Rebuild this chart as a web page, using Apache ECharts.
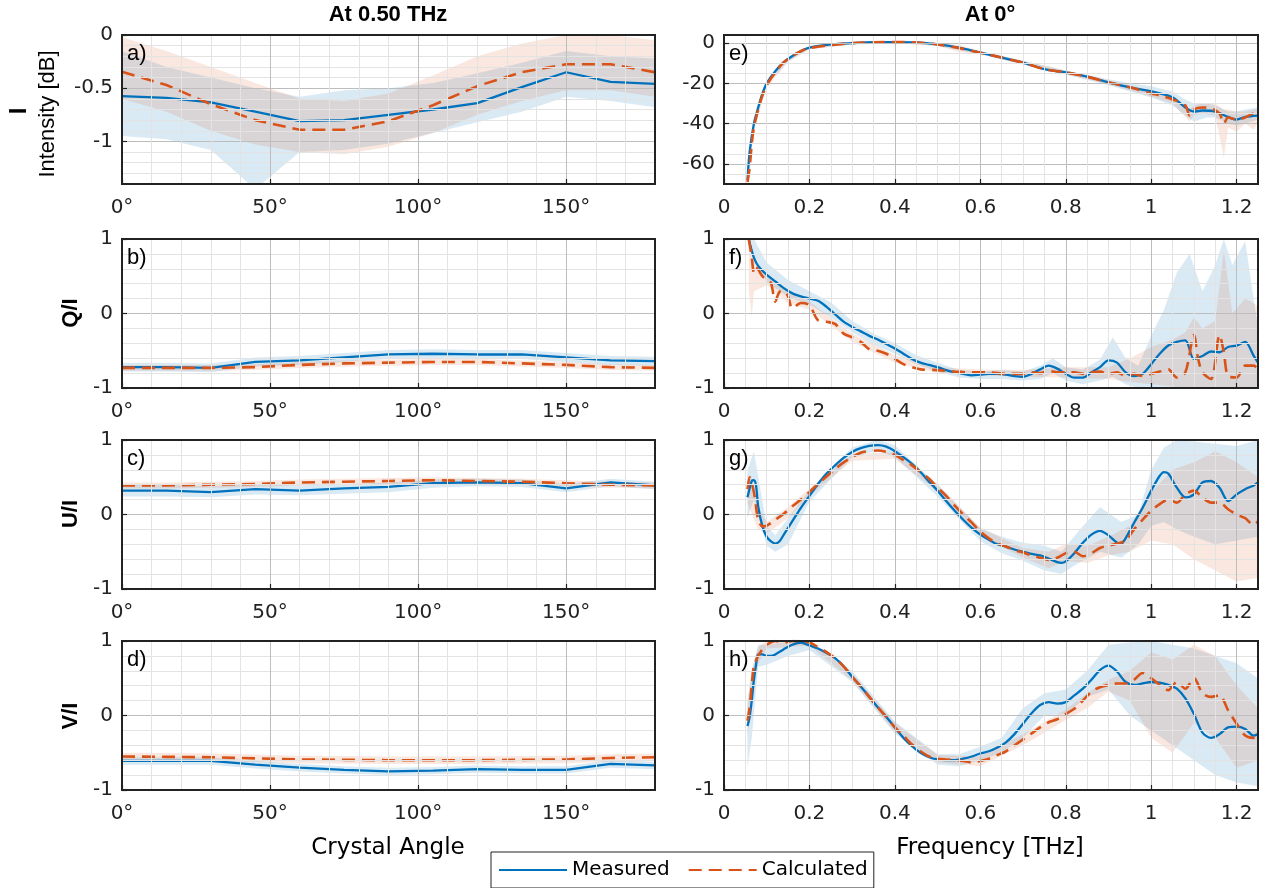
<!DOCTYPE html>
<html><head><meta charset="utf-8">
<script src="https://cdn.jsdelivr.net/npm/echarts@6/dist/echarts.min.js"></script>
<style>html,body{margin:0;padding:0;background:#fff}#chart{width:1262px;height:888px}</style>
</head><body><div id="chart"></div><script>
// ---------------- DATA ----------------
const angles = [0,15,30,45,60,75,90,105,120,135,150,165,180];
// a) Intensity [dB] at 0.50 THz
const aMeas   = [-0.575,-0.59,-0.633,-0.72,-0.81,-0.80,-0.75,-0.70,-0.64,-0.49,-0.35,-0.44,-0.46];
const aCalc   = [-0.345,-0.47,-0.65,-0.80,-0.89,-0.89,-0.81,-0.66,-0.48,-0.35,-0.275,-0.275,-0.35];
const aMeasLo = [-0.95,-0.98,-1.08,-1.45,-1.1,-1.08,-1.02,-0.92,-0.82,-0.72,-0.58,-0.62,-0.68];
const aMeasHi = [-0.15,-0.3,-0.4,-0.5,-0.58,-0.52,-0.5,-0.45,-0.36,-0.26,-0.15,-0.2,-0.22];
const aCalcLo = [-0.6,-0.72,-0.9,-1.03,-1.1,-1.12,-1.05,-0.92,-0.75,-0.62,-0.52,-0.52,-0.58];
const aCalcHi = [-0.02,-0.15,-0.3,-0.45,-0.6,-0.62,-0.55,-0.38,-0.2,-0.08,0.0,0.0,-0.05];
// b) Q/I
const bMeas   = [-0.72,-0.72,-0.73,-0.65,-0.63,-0.59,-0.55,-0.54,-0.55,-0.55,-0.59,-0.63,-0.64];
const bCalc   = [-0.73,-0.73,-0.73,-0.72,-0.69,-0.67,-0.66,-0.65,-0.65,-0.67,-0.69,-0.72,-0.73];
const bMeasLo = [-0.78,-0.78,-0.79,-0.71,-0.69,-0.65,-0.61,-0.60,-0.61,-0.61,-0.65,-0.69,-0.70];
const bMeasHi = [-0.66,-0.66,-0.67,-0.59,-0.57,-0.53,-0.49,-0.48,-0.49,-0.49,-0.53,-0.57,-0.58];
const bCalcLo = [-0.77,-0.77,-0.77,-0.76,-0.73,-0.71,-0.70,-0.69,-0.69,-0.71,-0.73,-0.76,-0.77];
const bCalcHi = [-0.69,-0.69,-0.69,-0.68,-0.65,-0.63,-0.62,-0.61,-0.61,-0.63,-0.65,-0.68,-0.69];
// c) U/I
const cMeas   = [0.32,0.32,0.30,0.34,0.32,0.35,0.37,0.42,0.43,0.42,0.35,0.43,0.39];
const cCalc   = [0.39,0.39,0.40,0.41,0.43,0.44,0.45,0.46,0.45,0.44,0.42,0.40,0.39];
const cMeasLo = [0.24,0.24,0.23,0.27,0.26,0.28,0.30,0.36,0.38,0.37,0.30,0.38,0.34];
const cMeasHi = [0.40,0.40,0.38,0.41,0.39,0.41,0.43,0.47,0.48,0.47,0.41,0.48,0.44];
const cCalcLo = [0.35,0.35,0.36,0.37,0.39,0.40,0.41,0.42,0.41,0.40,0.38,0.36,0.35];
const cCalcHi = [0.43,0.43,0.44,0.45,0.47,0.48,0.49,0.50,0.49,0.48,0.46,0.44,0.43];
// d) V/I
const dMeas   = [-0.61,-0.61,-0.61,-0.66,-0.70,-0.73,-0.75,-0.74,-0.72,-0.73,-0.73,-0.65,-0.67];
const dCalc   = [-0.55,-0.555,-0.56,-0.575,-0.59,-0.595,-0.60,-0.60,-0.60,-0.595,-0.59,-0.57,-0.56];
const dMeasLo = [-0.66,-0.66,-0.66,-0.71,-0.75,-0.78,-0.80,-0.79,-0.77,-0.78,-0.78,-0.70,-0.72];
const dMeasHi = [-0.56,-0.56,-0.56,-0.61,-0.65,-0.68,-0.70,-0.69,-0.67,-0.68,-0.68,-0.60,-0.62];
const dCalcLo = [-0.60,-0.605,-0.61,-0.625,-0.64,-0.645,-0.65,-0.65,-0.65,-0.645,-0.64,-0.62,-0.61];
const dCalcHi = [-0.50,-0.505,-0.51,-0.525,-0.54,-0.545,-0.55,-0.55,-0.55,-0.545,-0.54,-0.52,-0.51];

// e) Intensity [dB] at 0 deg vs frequency
const eMeasX = [0.055,0.06,0.07,0.08,0.09,0.10,0.12,0.14,0.16,0.18,0.20,0.25,0.30,0.35,0.40,0.45,0.50,0.55,0.60,0.65,0.70,0.75,0.80,0.85,0.90,0.95,1.00,1.05,1.08,1.10,1.12,1.15,1.18,1.20,1.22,1.25];
const eMeasY = [-68,-54,-40,-32,-25,-20,-14,-9.5,-6.4,-4,-2.3,-0.7,0,0.5,0.5,0.3,-0.7,-2.3,-4.8,-7.2,-9.7,-13,-14.6,-16.7,-19.5,-22,-24,-27,-32,-34,-33.5,-34,-36.7,-38,-36.7,-36];
const eCalcX = [0.055,0.06,0.065,0.07,0.08,0.09,0.10,0.12,0.14,0.16,0.18,0.20,0.25,0.30,0.35,0.40,0.45,0.50,0.55,0.60,0.65,0.70,0.75,0.80,0.85,0.90,0.95,1.00,1.02,1.05,1.08,1.09,1.10,1.12,1.14,1.16,1.17,1.18,1.20,1.22,1.24,1.25];
const eCalcY = [-69,-62,-50,-42,-33,-26,-21,-14.5,-9.5,-6.4,-4,-2.5,-1,0,0.4,0.5,0.3,-0.7,-2.5,-4.8,-7.2,-9.7,-13,-14.6,-16.7,-19.5,-22,-25,-26,-28,-31,-36,-33,-32,-32.5,-35,-40,-37,-38,-37,-35,-36];
const eMBandX = [0.055,0.07,0.1,0.15,0.2,0.3,0.4,0.5,0.6,0.7,0.8,0.9,0.95,1.0,1.05,1.08,1.1,1.13,1.15,1.18,1.2,1.22,1.25];
const eMLo = [-70,-42,-21,-9,-3,-0.7,0,-1.5,-5.6,-10.6,-15.6,-21,-24,-27,-31,-36,-39,-37,-37,-40,-41,-40,-38];
const eMHi = [-66,-38,-19,-7.6,-1.6,0.7,1.0,0,-4,-8.8,-13.6,-18,-20,-21.5,-24,-28,-30,-30,-31,-34,-34,-33,-32];
const eCBandX = [0.055,0.07,0.1,0.15,0.2,0.3,0.4,0.5,0.55,0.6,0.7,0.8,0.9,1.0,1.05,1.09,1.1,1.12,1.15,1.17,1.18,1.2,1.22,1.24,1.25];
const eCLo = [-70,-43,-22,-9.5,-3.2,-0.6,0,-1.4,-4.5,-5.6,-10.6,-15.6,-20.5,-26.5,-30,-39,-36,-35,-36,-57,-42,-44,-40,-43,-39];
const eCHi = [-66,-40,-20,-7.8,-1.8,0.6,1.0,0,-1,-4,-8.8,-13.6,-18.5,-23.5,-26,-33,-31,-30,-30,-33,-33,-34,-34,-33,-33];

// f) Q/I vs frequency
const fMeasX = [0.058,0.06,0.07,0.08,0.10,0.12,0.14,0.16,0.18,0.20,0.22,0.24,0.26,0.28,0.30,0.32,0.34,0.36,0.38,0.40,0.42,0.44,0.46,0.48,0.50,0.52,0.54,0.56,0.58,0.60,0.62,0.64,0.66,0.68,0.70,0.72,0.74,0.76,0.78,0.80,0.82,0.84,0.86,0.88,0.90,0.92,0.94,0.96,0.98,1.00,1.02,1.04,1.06,1.08,1.10,1.12,1.14,1.16,1.18,1.20,1.22,1.24,1.25];
const fMeasY = [1.0,0.95,0.75,0.64,0.52,0.43,0.34,0.27,0.23,0.20,0.17,0.09,-0.01,-0.11,-0.18,-0.24,-0.30,-0.35,-0.41,-0.47,-0.54,-0.61,-0.66,-0.69,-0.72,-0.76,-0.79,-0.81,-0.83,-0.82,-0.81,-0.81,-0.82,-0.84,-0.85,-0.81,-0.75,-0.70,-0.74,-0.81,-0.86,-0.86,-0.79,-0.72,-0.63,-0.66,-0.79,-0.84,-0.81,-0.68,-0.54,-0.43,-0.38,-0.36,-0.61,-0.57,-0.51,-0.52,-0.45,-0.43,-0.38,-0.57,-0.66];
const fCalcX = [0.058,0.065,0.07,0.075,0.08,0.09,0.10,0.11,0.12,0.13,0.14,0.15,0.16,0.18,0.20,0.22,0.24,0.26,0.28,0.30,0.32,0.34,0.36,0.38,0.40,0.42,0.44,0.46,0.50,0.54,0.58,0.62,0.66,0.70,0.72,0.74,0.76,0.78,0.80,0.82,0.84,0.86,0.88,0.90,0.92,0.94,0.96,0.98,1.00,1.02,1.04,1.06,1.08,1.10,1.11,1.12,1.14,1.16,1.17,1.18,1.20,1.22,1.24,1.25];
const fCalcY = [1.0,0.75,0.55,0.62,0.59,0.5,0.45,0.41,0.16,0.29,0.30,0.23,0.07,0.14,0.11,-0.09,-0.11,-0.14,-0.27,-0.32,-0.38,-0.48,-0.50,-0.54,-0.61,-0.68,-0.72,-0.75,-0.76,-0.78,-0.79,-0.79,-0.81,-0.81,-0.79,-0.80,-0.77,-0.79,-0.79,-0.79,-0.81,-0.79,-0.78,-0.81,-0.79,-0.84,-0.81,-0.84,-0.81,-0.78,-0.75,-0.86,-0.79,-0.29,-0.61,-0.79,-0.88,-0.29,-0.52,-0.84,-0.86,-0.70,-0.70,-0.75];
const fMBandX = [0.058,0.07,0.1,0.15,0.2,0.25,0.3,0.35,0.4,0.45,0.5,0.55,0.6,0.65,0.7,0.74,0.77,0.8,0.84,0.88,0.91,0.94,0.97,1.0,1.03,1.06,1.09,1.12,1.15,1.17,1.19,1.22,1.25];
const fMHi = [1.0,1.0,0.68,0.45,0.3,0.15,-0.1,-0.27,-0.4,-0.56,-0.66,-0.76,-0.78,-0.76,-0.78,-0.7,-0.6,-0.72,-0.75,-0.62,-0.32,-0.6,-0.7,-0.3,0.05,0.55,0.8,0.3,0.65,1.0,0.65,0.97,-0.2];
const fMLo = [0.9,0.75,0.42,0.22,0.12,-0.05,-0.25,-0.42,-0.54,-0.68,-0.78,-0.86,-0.88,-0.88,-0.9,-0.88,-0.8,-0.9,-0.95,-0.9,-0.85,-0.95,-1.0,-1.0,-1.0,-1.0,-1.0,-1.0,-1.0,-1.0,-1.0,-1.0,-1.0];
const fCBandX = [0.058,0.065,0.07,0.1,0.15,0.2,0.3,0.4,0.5,0.6,0.7,0.8,0.9,0.95,1.0,1.05,1.08,1.1,1.12,1.15,1.17,1.19,1.22,1.25];
const fCHi = [1.0,0.9,0.7,0.5,0.3,0.16,-0.27,-0.56,-0.72,-0.75,-0.76,-0.72,-0.72,-0.6,-0.45,-0.35,-0.25,-0.05,-0.2,-0.1,0.85,0.0,0.2,0.1];
const fCLo = [0.3,-0.05,0.3,0.38,0.14,0.05,-0.38,-0.66,-0.8,-0.83,-0.85,-0.86,-0.88,-0.92,-0.95,-0.98,-1.0,-1.0,-1.0,-1.0,-1.0,-1.0,-1.0,-1.0];

// g) U/I vs frequency
const gMeasX = [0.055,0.065,0.07,0.075,0.08,0.09,0.10,0.11,0.12,0.13,0.14,0.16,0.18,0.20,0.22,0.24,0.26,0.28,0.30,0.32,0.34,0.36,0.38,0.40,0.42,0.44,0.46,0.48,0.50,0.52,0.54,0.56,0.58,0.60,0.62,0.64,0.66,0.68,0.70,0.72,0.74,0.76,0.78,0.79,0.80,0.82,0.84,0.86,0.88,0.90,0.92,0.93,0.94,0.96,0.98,1.00,1.02,1.03,1.04,1.06,1.08,1.10,1.12,1.14,1.16,1.18,1.20,1.22,1.24,1.25];
const gMeasY = [0.23,0.45,0.46,0.39,0.11,-0.16,-0.30,-0.36,-0.39,-0.36,-0.27,-0.09,0.09,0.25,0.41,0.55,0.66,0.76,0.84,0.89,0.92,0.93,0.91,0.85,0.77,0.68,0.57,0.44,0.32,0.18,0.05,-0.07,-0.18,-0.27,-0.34,-0.40,-0.43,-0.47,-0.50,-0.53,-0.55,-0.59,-0.64,-0.65,-0.63,-0.52,-0.38,-0.27,-0.22,-0.28,-0.38,-0.39,-0.32,-0.11,0.09,0.32,0.52,0.57,0.55,0.36,0.23,0.27,0.43,0.45,0.36,0.18,0.27,0.34,0.39,0.43];
const gCalcX = [0.055,0.06,0.07,0.08,0.09,0.10,0.12,0.14,0.16,0.18,0.20,0.22,0.24,0.26,0.28,0.30,0.32,0.34,0.36,0.38,0.40,0.42,0.44,0.46,0.48,0.50,0.52,0.54,0.56,0.58,0.60,0.62,0.64,0.66,0.68,0.70,0.72,0.74,0.76,0.78,0.80,0.82,0.84,0.86,0.88,0.90,0.92,0.94,0.96,0.98,1.00,1.02,1.04,1.06,1.08,1.10,1.12,1.14,1.16,1.18,1.20,1.22,1.24,1.25];
const gCalcY = [0.34,0.5,0.30,-0.07,-0.16,-0.15,-0.07,0.01,0.11,0.2,0.30,0.41,0.51,0.61,0.70,0.77,0.83,0.85,0.86,0.84,0.80,0.73,0.66,0.57,0.48,0.36,0.25,0.12,0.0,-0.11,-0.23,-0.32,-0.39,-0.43,-0.48,-0.51,-0.55,-0.58,-0.61,-0.58,-0.52,-0.50,-0.56,-0.52,-0.45,-0.42,-0.39,-0.35,-0.20,-0.07,0.05,0.14,0.20,0.16,0.27,0.32,0.23,0.16,0.16,0.07,0.0,-0.05,-0.14,-0.09];
const gMBandX = [0.055,0.07,0.1,0.12,0.15,0.2,0.3,0.36,0.4,0.5,0.6,0.65,0.7,0.75,0.79,0.83,0.88,0.93,0.97,1.0,1.03,1.06,1.1,1.15,1.2,1.25];
const gMHi = [0.6,0.85,-0.15,-0.28,-0.05,0.33,0.9,1.0,0.93,0.4,-0.18,-0.3,-0.38,-0.42,-0.5,-0.22,0.1,-0.1,0.0,0.6,0.9,1.0,0.98,0.95,0.92,1.0];
const gMLo = [-0.05,0.2,-0.42,-0.5,-0.4,0.17,0.77,0.86,0.77,0.24,-0.36,-0.52,-0.62,-0.75,-0.8,-0.65,-0.5,-0.58,-0.4,-0.15,-0.1,-0.2,-0.3,-0.4,-0.35,-0.3];
const gCBandX = [0.055,0.08,0.1,0.15,0.2,0.3,0.4,0.5,0.6,0.7,0.76,0.8,0.85,0.9,0.95,1.0,1.05,1.1,1.15,1.2,1.25];
const gCHi = [0.55,0.1,-0.1,0.1,0.35,0.81,0.84,0.41,-0.18,-0.45,-0.5,-0.4,-0.42,-0.3,-0.15,0.3,0.6,0.7,0.85,0.7,0.5];
const gCLo = [0.15,-0.2,-0.25,-0.05,0.25,0.72,0.75,0.31,-0.28,-0.58,-0.72,-0.62,-0.65,-0.55,-0.5,-0.35,-0.4,-0.6,-0.75,-0.9,-0.85];

// h) V/I vs frequency
const hMeasX = [0.055,0.06,0.065,0.07,0.075,0.08,0.09,0.10,0.11,0.12,0.14,0.16,0.18,0.20,0.22,0.24,0.26,0.28,0.30,0.32,0.34,0.36,0.38,0.40,0.42,0.44,0.46,0.48,0.50,0.52,0.54,0.56,0.58,0.60,0.62,0.64,0.66,0.68,0.70,0.72,0.74,0.76,0.78,0.80,0.82,0.84,0.86,0.88,0.90,0.92,0.94,0.96,0.98,1.00,1.02,1.04,1.06,1.08,1.10,1.12,1.14,1.16,1.18,1.20,1.22,1.24,1.25];
const hMeasY = [-0.14,-0.02,0.20,0.48,0.68,0.82,0.82,0.80,0.80,0.82,0.89,0.95,0.98,0.94,0.90,0.84,0.77,0.66,0.52,0.39,0.25,0.11,-0.02,-0.16,-0.30,-0.41,-0.50,-0.56,-0.59,-0.60,-0.60,-0.58,-0.55,-0.51,-0.48,-0.43,-0.36,-0.25,-0.11,0.03,0.14,0.18,0.16,0.18,0.27,0.36,0.48,0.61,0.67,0.59,0.45,0.41,0.43,0.45,0.44,0.41,0.36,0.23,0.02,-0.23,-0.30,-0.25,-0.16,-0.15,-0.18,-0.27,-0.25];
const hCalcX = [0.055,0.06,0.065,0.07,0.08,0.09,0.10,0.12,0.14,0.16,0.18,0.20,0.22,0.24,0.26,0.28,0.30,0.32,0.34,0.36,0.38,0.40,0.42,0.44,0.46,0.48,0.50,0.52,0.54,0.56,0.58,0.60,0.62,0.64,0.66,0.68,0.70,0.72,0.74,0.76,0.78,0.80,0.82,0.84,0.86,0.88,0.90,0.92,0.94,0.96,0.98,1.00,1.02,1.04,1.06,1.08,1.10,1.12,1.14,1.16,1.18,1.20,1.22,1.24,1.25];
const hCalcY = [-0.07,0.11,0.41,0.66,0.80,0.89,0.95,1.0,0.98,1.0,1.0,0.98,0.92,0.85,0.77,0.66,0.52,0.39,0.25,0.11,-0.02,-0.16,-0.27,-0.39,-0.48,-0.55,-0.58,-0.59,-0.60,-0.61,-0.63,-0.61,-0.58,-0.53,-0.48,-0.40,-0.32,-0.24,-0.16,-0.09,-0.05,0.02,0.09,0.20,0.32,0.38,0.41,0.43,0.43,0.48,0.57,0.50,0.41,0.34,0.45,0.36,0.50,0.30,0.25,0.27,0.07,-0.11,-0.27,-0.30,-0.29];
const hMBandX = [0.055,0.065,0.08,0.1,0.15,0.2,0.3,0.4,0.5,0.55,0.6,0.65,0.7,0.75,0.8,0.85,0.9,0.95,1.0,1.05,1.1,1.15,1.2,1.25];
const hMHi = [0.2,0.6,0.95,0.95,0.99,1.0,0.6,-0.08,-0.52,-0.52,-0.42,-0.3,0.1,0.3,0.35,0.6,0.95,0.98,1.0,0.95,0.9,0.8,0.7,0.5];
const hMLo = [-0.7,-0.3,0.65,0.68,0.8,0.88,0.45,-0.24,-0.66,-0.68,-0.6,-0.5,-0.3,0.0,0.02,0.25,0.35,0.0,-0.2,-0.4,-0.6,-0.8,-0.9,-0.95];
const hCBandX = [0.055,0.065,0.08,0.1,0.15,0.2,0.3,0.4,0.5,0.6,0.7,0.8,0.85,0.9,0.95,1.0,1.05,1.1,1.15,1.2,1.25];
const hCHi = [0.15,0.6,0.92,1.0,1.0,1.0,0.57,-0.1,-0.53,-0.55,-0.25,0.08,0.3,0.48,0.6,0.85,0.75,0.95,0.8,0.4,0.1];
const hCLo = [-0.3,0.2,0.7,0.9,0.92,0.94,0.47,-0.22,-0.63,-0.68,-0.4,-0.06,0.1,0.32,0.2,-0.3,-0.5,-0.1,-0.3,-0.7,-0.6];

// tick label values
const angleTicks = [0,50,100,150];
const freqTicks = [0,0.2,0.4,0.6,0.8,1,1.2];
const dbTicksA = [-1,-0.5,0];
const dbTicksE = [-60,-40,-20,0];
const stokesTicks = [-1,0,1];

// ---------------- LAYOUT / STYLE ----------------
const FONT = "'Liberation Sans', Arial, Helvetica, sans-serif";
const TFONT = "'DejaVu Sans', 'Liberation Sans', sans-serif";
const C_MEAS = '#0072BD', C_CALC = '#D95319';
const B_MEAS = 'rgba(0,114,189,0.15)', B_CALC = 'rgba(217,83,25,0.14)';
const MAJ = '#bdbdbd', MIN = '#e3e3e3', AXC = '#222222';
const LX = 122, LW = 533, RX = 724, RW = 534, TOPS = [35, 239, 440, 641], PH = 149;

const xDefs = {
  ang: {min:0, max:180, interval:10, colors:[MAJ,MIN,MIN,MIN,MIN], ticks:angleTicks, fmt:v=>v+'°'},
  frq: {min:0, max:1.25, interval:0.05, colors:[MAJ,MIN,MIN,MIN], ticks:freqTicks, fmt:v=>String(+(+v).toFixed(2))}
};
const yDefs = {
  a: {min:-1.4, max:0, interval:0.1, colors:[MIN,MIN,MIN,MIN,MAJ], ticks:dbTicksA, fmt:v=>String(+(+v).toFixed(2))},
  e: {min:-70, max:4, interval:5, colors:[MIN,MIN,MAJ,MIN], ticks:dbTicksE, fmt:v=>String(v)},
  s: {min:-1, max:1, interval:0.2, colors:[MAJ,MIN,MIN,MIN,MIN], ticks:stokesTicks, fmt:v=>String(+(+v).toFixed(2))}
};

const panels = [
  {col:0,row:0,L:'a)',xd:'ang',yd:'a', m:[angles,aMeas], c:[angles,aCalc], mb:[angles,aMeasLo,aMeasHi], cb:[angles,aCalcLo,aCalcHi]},
  {col:0,row:1,L:'b)',xd:'ang',yd:'s', m:[angles,bMeas], c:[angles,bCalc], mb:[angles,bMeasLo,bMeasHi], cb:[angles,bCalcLo,bCalcHi]},
  {col:0,row:2,L:'c)',xd:'ang',yd:'s', m:[angles,cMeas], c:[angles,cCalc], mb:[angles,cMeasLo,cMeasHi], cb:[angles,cCalcLo,cCalcHi]},
  {col:0,row:3,L:'d)',xd:'ang',yd:'s', m:[angles,dMeas], c:[angles,dCalc], mb:[angles,dMeasLo,dMeasHi], cb:[angles,dCalcLo,dCalcHi]},
  {col:1,row:0,L:'e)',xd:'frq',yd:'e', m:[eMeasX,eMeasY], c:[eCalcX,eCalcY], mb:[eMBandX,eMLo,eMHi], cb:[eCBandX,eCLo,eCHi]},
  {col:1,row:1,L:'f)',xd:'frq',yd:'s', m:[fMeasX,fMeasY], c:[fCalcX,fCalcY], mb:[fMBandX,fMLo,fMHi], cb:[fCBandX,fCLo,fCHi]},
  {col:1,row:2,L:'g)',xd:'frq',yd:'s', m:[gMeasX,gMeasY], c:[gCalcX,gCalcY], mb:[gMBandX,gMLo,gMHi], cb:[gCBandX,gCLo,gCHi]},
  {col:1,row:3,L:'h)',xd:'frq',yd:'s', m:[hMeasX,hMeasY], c:[hCalcX,hCalcY], mb:[hMBandX,hMLo,hMHi], cb:[hCBandX,hCLo,hCHi]}
];

function isTick(list, v){ return list.some(t => Math.abs(t - v) < 1e-6); }

// main axis (bottom/left): major ticks + labels; secondary axis (top/right): grid lines at every minor step
function makeAxis(def, gi, pos, main) {
  const ax = {
    gridIndex: gi, type: 'value', position: pos,
    min: def.min, max: def.max, interval: def.interval,
    axisLine: {show: true, onZero: false, lineStyle: {color: AXC, width: 2}},
    z: 5
  };
  if (main) {
    ax.axisTick = {show: true, inside: true, length: 5, customValues: def.ticks, lineStyle: {color: AXC, width: 1.2}};
    ax.axisLabel = {show: true, customValues: def.ticks, formatter: v => isTick(def.ticks, v) ? def.fmt(v) : '',
      fontFamily: TFONT, fontSize: 20, color: AXC, margin: (pos === 'bottom' ? 14 : 9)};
    ax.splitLine = {show: false};
  } else {
    ax.axisTick = {show: false};
    ax.axisLabel = {show: false};
    ax.splitLine = {show: true, lineStyle: {color: def.colors, width: 1}};
  }
  return ax;
}

function band(gi, xs, lo, hi, color) {
  return {
    type: 'custom', xAxisIndex: 2*gi, yAxisIndex: 2*gi, clip: true, silent: true, z: 1,
    data: xs.map((x, i) => [x, lo[i], hi[i]]),
    encode: {x: 0, y: [1, 2]},
    renderItem: function (params, api) {
      if (params.dataIndex !== 0) return null;
      const pts = [];
      for (let i = 0; i < xs.length; i++) pts.push(api.coord([xs[i], hi[i]]));
      for (let i = xs.length - 1; i >= 0; i--) pts.push(api.coord([xs[i], lo[i]]));
      return {type: 'polygon', shape: {points: pts}, style: {fill: color, stroke: null}};
    }
  };
}

const grids = [], xAxes = [], yAxes = [], series = [], graphics = [];
panels.forEach((p, gi) => {
  const left = p.col === 0 ? LX : RX, width = p.col === 0 ? LW : RW, top = TOPS[p.row];
  const sm = p.col === 1 ? 0.3 : 0;
  grids.push({left: left, top: top, width: width, height: PH, show: true, borderColor: AXC, borderWidth: 2, outerBoundsMode: 'none', containLabel: false});
  xAxes.push(makeAxis(xDefs[p.xd], gi, 'bottom', true));
  xAxes.push(makeAxis(xDefs[p.xd], gi, 'top', false));
  yAxes.push(makeAxis(yDefs[p.yd], gi, 'left', true));
  yAxes.push(makeAxis(yDefs[p.yd], gi, 'right', false));
  series.push(band(gi, p.mb[0], p.mb[1], p.mb[2], B_MEAS));
  series.push(band(gi, p.cb[0], p.cb[1], p.cb[2], B_CALC));
  series.push({type: 'line', name: 'Measured', xAxisIndex: 2*gi, yAxisIndex: 2*gi, silent: true, z: 3,
    data: p.m[0].map((x, i) => [x, p.m[1][i]]), symbol: 'none', showSymbol: false, smooth: sm,
    lineStyle: {color: C_MEAS, width: 2.3}, itemStyle: {color: C_MEAS}});
  series.push({type: 'line', name: 'Calculated', xAxisIndex: 2*gi, yAxisIndex: 2*gi, silent: true, z: 4,
    data: p.c[0].map((x, i) => [x, p.c[1][i]]), symbol: 'none', showSymbol: false, smooth: sm,
    lineStyle: {color: C_CALC, width: 2.6, type: [13, 7]}, itemStyle: {color: C_CALC}});
  graphics.push({type: 'text', x: left + 5, y: top + 8, z: 10,
    style: {text: p.L, font: '22px ' + FONT, fill: '#000'}});
});

const txt = (x, y, text, font, rot) => ({type: 'text', x: x, y: y, rotation: rot || 0, z: 10,
  style: {text: text, font: font, fill: '#000', align: 'center', verticalAlign: 'middle'}});
graphics.push(txt(388, 15, 'At 0.50 THz', 'bold 22px ' + FONT));
graphics.push(txt(990, 15, 'At 0°', 'bold 22px ' + FONT));
graphics.push(txt(19, 111, 'I', 'bold 24px ' + FONT, Math.PI / 2));
graphics.push(txt(48, 114, 'Intensity [dB]', '22px ' + FONT, Math.PI / 2));
graphics.push(txt(71, 313, 'Q/I', 'bold 22px ' + FONT, Math.PI / 2));
graphics.push(txt(71, 514, 'U/I', 'bold 22px ' + FONT, Math.PI / 2));
graphics.push(txt(71, 716, 'V/I', 'bold 22px ' + FONT, Math.PI / 2));
graphics.push(txt(388, 848, 'Crystal Angle', '23px ' + TFONT));
graphics.push(txt(990, 848, 'Frequency [THz]', '23px ' + TFONT));

const chart = echarts.init(document.getElementById('chart'), null, {renderer: 'canvas'});
chart.setOption({
  animation: false,
  backgroundColor: '#fff',
  grid: grids, xAxis: xAxes, yAxis: yAxes, series: series,
  legend: {data: ['Measured', 'Calculated'], left: 491, top: 852, orient: 'horizontal',
    itemWidth: 68, itemHeight: 14, itemGap: 18, padding: [8, 6, 8, 7],
    borderColor: AXC, borderWidth: 1, backgroundColor: '#fff', selectedMode: false,
    itemStyle: {opacity: 0},
    textStyle: {fontFamily: TFONT, fontSize: 20, color: '#000'}},
  graphic: graphics
});
</script></body></html>
